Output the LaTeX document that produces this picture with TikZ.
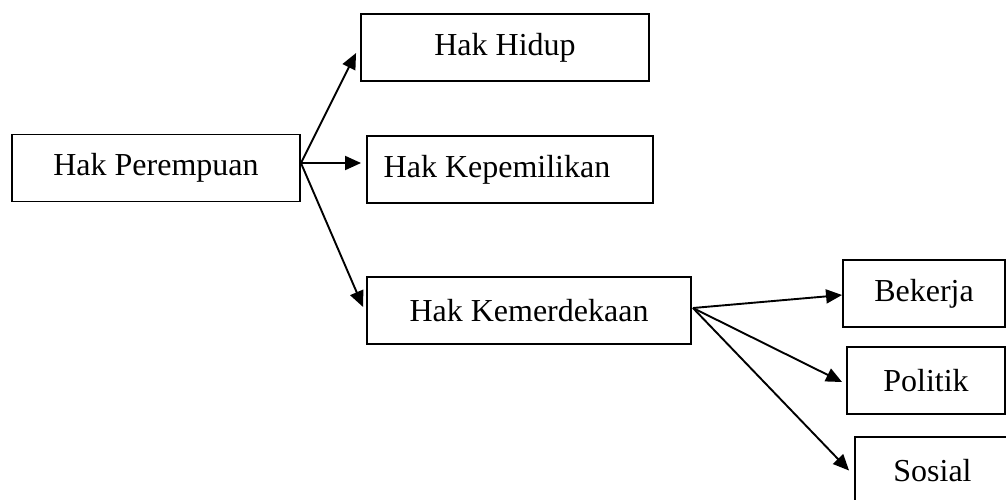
\documentclass[tikz,border=0pt]{standalone}
\usepackage{fontspec}
\setmainfont{Liberation Serif}
\usetikzlibrary{arrows.meta,calc}
\begin{document}
\begin{tikzpicture}[x=1pt,y=-1pt,
  box/.style={draw,line width=1.9pt,minimum height=67pt,inner sep=0pt,font=\fontsize{32}{38}\selectfont},
  conn/.style={line width=1.9pt,-{Triangle[length=16pt,width=14pt]}}]
\useasboundingbox (0,0) rectangle (1006,499);
\node[box,minimum width=288pt] (hp) at (156,168) {Hak Perempuan};
\node[box,minimum width=288pt] (hh) at (505,47.5) {Hak Hidup};
\node[box,minimum width=286pt] (hk) at (510,169.5) {Hak Kepemilikan\hspace*{26pt}};
\node[box,minimum width=324pt] (hm) at (529,310.5) {Hak Kemerdekaan};
\node[box,minimum width=162pt] (bk) at (924,293.5) {Bekerja};
\node[box,minimum width=158pt] (pl) at (926,380.5) {Politik};
\node[box,minimum width=155pt] (ss) at (932.5,470.5) {Sosial};
\draw[conn] ($(hp.east)+(0,-5)$) -- ($(hh.west)+(-4,5.5)$);
\draw[conn] ($(hp.east)+(0,-5)$) -- ($(hk.west)+(-5,-6.5)$);
\draw[conn] ($(hp.east)+(0,-5)$) -- ($(hm.west)+(-3,-3.5)$);
\draw[conn] ($(hm.east)+(1,-2.5)$) -- ($(bk.west)+(0,1.5)$);
\draw[conn] ($(hm.east)+(1,-2.5)$) -- ($(pl.west)+(-4,1.5)$);
\draw[conn] ($(hm.east)+(1,-2.5)$) -- ($(ss.west)+(-5,0)$);
\end{tikzpicture}
\end{document}
